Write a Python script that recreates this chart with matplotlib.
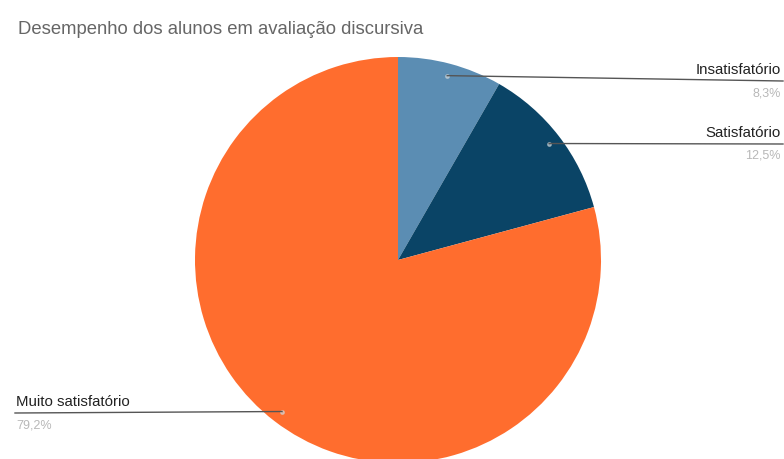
import matplotlib.pyplot as plt
import numpy as np

plt.rcParams['font.family'] = ['Liberation Sans', 'DejaVu Sans']

categorias = ['Insatisfatório', 'Satisfatório', 'Muito satisfatório']
valores = [8.3, 12.5, 79.2]
rotulos_pct = ['8,3%', '12,5%', '79,2%']
cores = ['#5b8db3', '#0a4466', '#ff6d2e']

W, H = 784, 459
fig = plt.figure(figsize=(W / 100, H / 100), dpi=100)
ax = fig.add_axes([0, 0, 1, 1])

cx, cy, r = 398, H - 260, 203
wedges, _ = ax.pie(valores, colors=cores, startangle=90, counterclock=False,
                   center=(cx, cy), radius=r, frame=True,
                   wedgeprops=dict(linewidth=0))
ax.set_xlim(0, W)
ax.set_ylim(0, H)
ax.set_aspect('equal')
ax.axis('off')

# lado da legenda e y da linha guia (pixels a partir do topo)
lados = ['right', 'right', 'left']
linhas_y = [81, 144, 413]

for w, nome, pct, lado, ly in zip(wedges, categorias, rotulos_pct, lados, linhas_y):
    ang = np.deg2rad((w.theta1 + w.theta2) / 2)
    px = cx + 0.94 * r * np.cos(ang)
    py = cy + 0.94 * r * np.sin(ang)
    ax.plot([px], [py], 'o', ms=2.5, color='#cfd8dc', alpha=0.6)
    yl = H - ly
    if lado == 'right':
        x_txt, ha, x_fim = W - 3, 'right', W - 1
    else:
        x_txt, ha, x_fim = 16, 'left', 15
    ax.plot([px, x_fim], [py, yl], color='#555555', lw=1.0)
    ax.text(x_txt, yl + 11, nome, ha=ha, va='center', fontsize=10.8, color='#222222')
    ax.text(x_txt, yl - 12, pct, ha=ha, va='center', fontsize=9, color='#b8b8b8')

fig.text(18 / W, 1 - 29 / H, 'Desempenho dos alunos em avaliação discursiva',
         ha='left', va='center', fontsize=13.3, color='#666666')

fig.savefig('out.png', dpi=100, facecolor='white')
